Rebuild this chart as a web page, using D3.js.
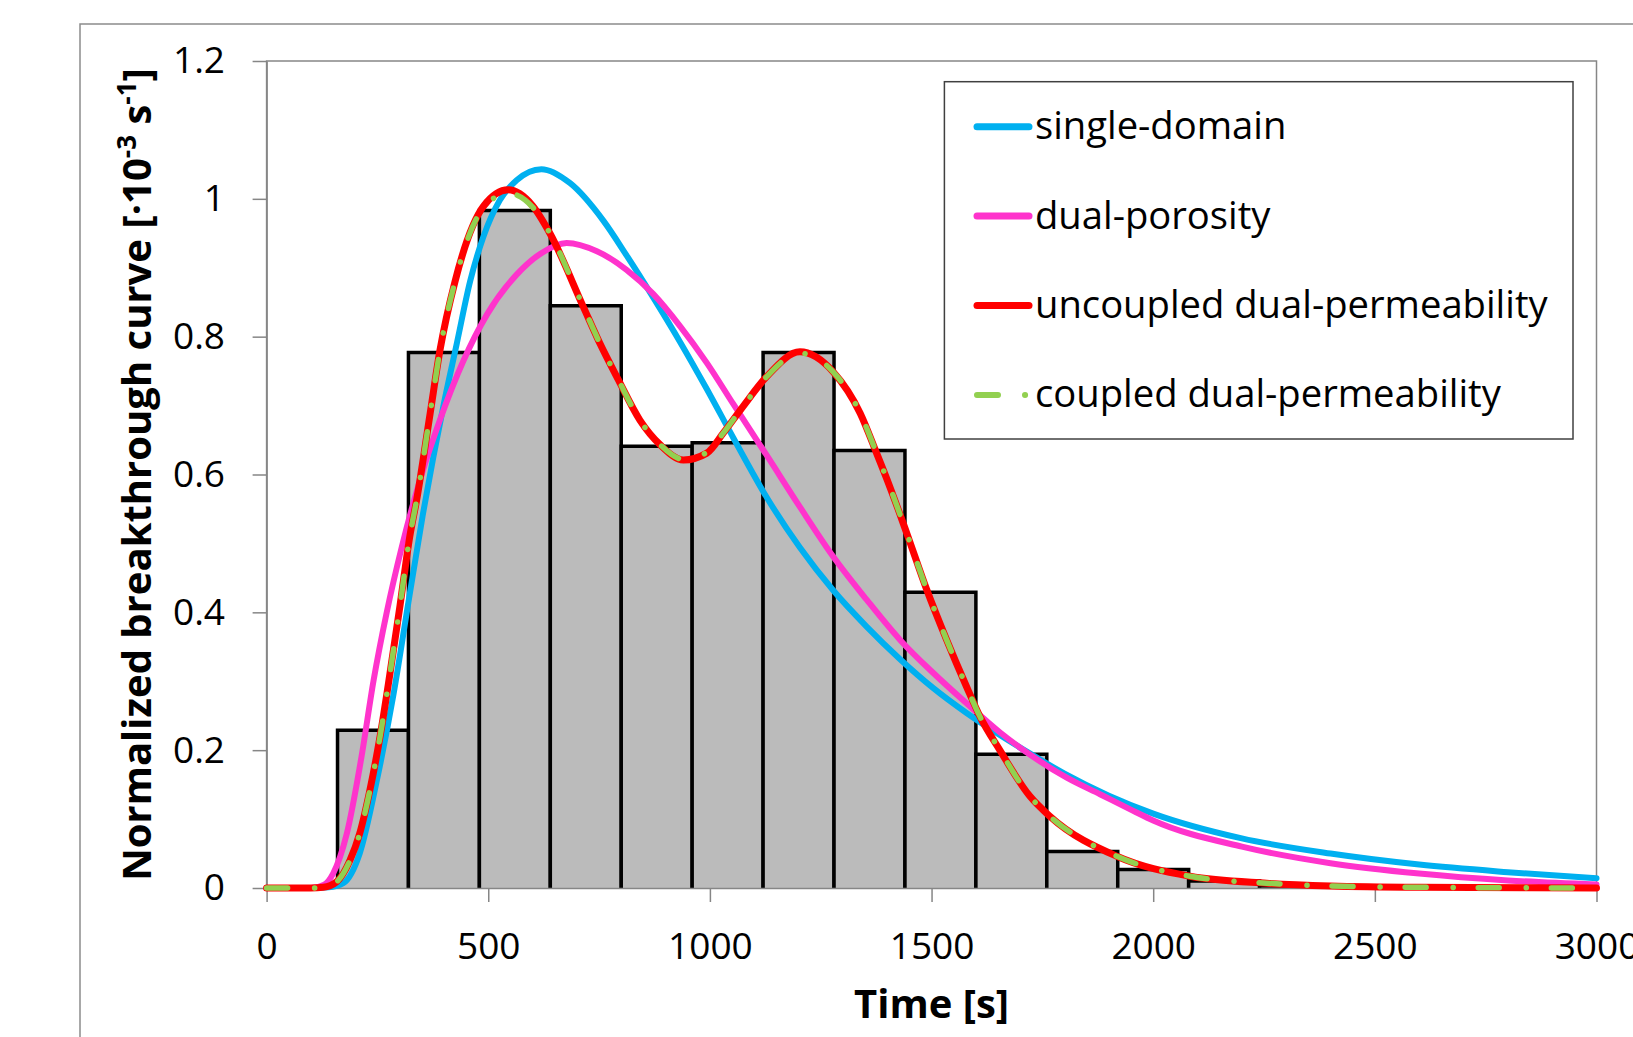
<!DOCTYPE html>
<html>
<head>
<meta charset="utf-8">
<script src="https://cdn.jsdelivr.net/npm/d3@7"></script>
<style>
body { margin:0; background:#fff; }
svg { display:block; font-family:"Open Sans", sans-serif; }
.axis path, .axis line { stroke:#868686; stroke-width:1.5; }
.axis text { font-size:37px; fill:#000; font-family:"Open Sans", sans-serif; }
.axis-label { font-size:40px; font-weight:bold; fill:#000; }
.legend text { font-size:38.2px; fill:#000; }
</style>
</head>
<body>
<div id="chart"></div>
<script>
// tick labels
var xTicks = [0, 500, 1000, 1500, 2000, 2500, 3000];
var yTicks = [0, 0.2, 0.4, 0.6, 0.8, 1, 1.2];

// histogram (bin start, bin width 160 s)
var binWidth = 160;
var binStart = [160, 320, 480, 640, 800, 960, 1120, 1280, 1440, 1600, 1760, 1920, 2080, 2240, 2400];
var binValue = [0.229, 0.777, 0.983, 0.845, 0.641, 0.646, 0.777, 0.635, 0.429, 0.194, 0.053, 0.027, 0.010, 0.003, 0.001];

// single-domain
var singleT = [0, 100, 140, 173, 210, 250, 286, 320, 352, 399, 429, 459, 489, 526, 564, 620, 684, 760, 812, 872, 933, 993, 1053, 1128, 1203, 1278, 1354, 1429, 1504, 1579, 1654, 1730, 1800, 1900, 2000, 2200, 2400, 2600, 2800, 3000];
var singleV = [0, 0, 0.001, 0.007, 0.05, 0.16, 0.28, 0.415, 0.54, 0.70, 0.79, 0.88, 0.945, 0.998, 1.027, 1.043, 1.023, 0.968, 0.918, 0.857, 0.792, 0.724, 0.653, 0.567, 0.494, 0.432, 0.379, 0.332, 0.29, 0.254, 0.222, 0.192, 0.166, 0.134, 0.108, 0.072, 0.05, 0.034, 0.023, 0.014];

// dual-porosity
var dualPorT = [0, 100, 130, 150, 181, 214, 241, 271, 305, 346, 391, 444, 497, 564, 617, 677, 745, 812, 872, 933, 993, 1053, 1128, 1203, 1278, 1354, 1429, 1504, 1579, 1654, 1730, 1805, 1880, 1955, 2000, 2200, 2400, 2600, 2800, 3000];
var dualPorV = [0, 0, 0.005, 0.021, 0.079, 0.19, 0.30, 0.40, 0.495, 0.592, 0.679, 0.765, 0.832, 0.89, 0.92, 0.936, 0.924, 0.897, 0.862, 0.815, 0.762, 0.702, 0.628, 0.553, 0.481, 0.418, 0.36, 0.312, 0.268, 0.226, 0.19, 0.16, 0.136, 0.112, 0.098, 0.06, 0.036, 0.021, 0.011, 0.005];

// uncoupled dual-permeability
var uncoupledT = [0, 100, 128, 158, 188, 210, 233, 256, 278, 301, 323, 339, 369, 391, 425, 489, 545, 600, 639, 714, 752, 793, 842, 888, 940, 993, 1030, 1075, 1128, 1203, 1278, 1339, 1376, 1406, 1444, 1489, 1534, 1579, 1609, 1654, 1722, 1767, 1918, 2083, 2256, 2400, 2600, 3000];
var uncoupledV = [0, 0, 0.001, 0.009, 0.04, 0.079, 0.142, 0.22, 0.31, 0.41, 0.51, 0.565, 0.689, 0.78, 0.88, 0.989, 1.013, 0.99, 0.95, 0.844, 0.79, 0.738, 0.679, 0.643, 0.621, 0.631, 0.66, 0.699, 0.742, 0.778, 0.749, 0.689, 0.631, 0.582, 0.515, 0.433, 0.36, 0.292, 0.249, 0.2, 0.133, 0.104, 0.046, 0.017, 0.007, 0.003, 0.001, 0];

// coupled dual-permeability
var coupledT = [0, 100, 128, 158, 188, 210, 233, 256, 278, 301, 323, 339, 369, 391, 425, 489, 545, 600, 639, 714, 752, 793, 842, 888, 940, 993, 1030, 1075, 1128, 1203, 1278, 1339, 1376, 1406, 1444, 1489, 1534, 1579, 1609, 1654, 1722, 1767, 1918, 2083, 2256, 2400, 2600, 3000];
var coupledV = [0, 0, 0.001, 0.009, 0.04, 0.079, 0.142, 0.22, 0.31, 0.41, 0.51, 0.565, 0.689, 0.78, 0.88, 0.987, 1.008, 0.988, 0.95, 0.844, 0.79, 0.738, 0.679, 0.643, 0.622, 0.632, 0.66, 0.699, 0.742, 0.776, 0.749, 0.689, 0.631, 0.582, 0.515, 0.433, 0.36, 0.292, 0.249, 0.2, 0.133, 0.104, 0.046, 0.017, 0.007, 0.003, 0.001, 0];

var legendLabels = ["single-domain", "dual-porosity", "uncoupled dual-permeability", "coupled dual-permeability"];
var seriesColors = ["#00b0f0", "#ff33cc", "#ff0000", "#92d050"];

var c = {
	w: 1633,
	h: 1037,
	l: 266.6, r: 1596.5, t: 61, b: 888,
	svg: null
};

function zip(ts, vs) {
	return ts.map((t,i) => ({t:t, v:vs[i]}));
}

c.svg = d3.select('#chart').append('svg')
			.attr('width', c.w)
			.attr('height', c.h);

var x = d3.scaleLinear().domain([0, 3000]).range([c.l, c.r]);
var y = d3.scaleLinear().domain([0, 1.2]).range([c.b, c.t]);

// outer chart frame (runs off the right and bottom edges)
c.svg.append('rect')
		.attr('x', 80).attr('y', 24)
		.attr('width', 1700).attr('height', 1100)
		.attr('fill', 'none')
		.attr('stroke', '#8c8c8c')
		.attr('stroke-width', 1.5);

// plot area border
c.svg.append('rect')
		.attr('x', c.l).attr('y', c.t)
		.attr('width', c.r-c.l).attr('height', c.b-c.t)
		.attr('fill', 'none')
		.attr('stroke', '#868686')
		.attr('stroke-width', 1.5);

// histogram bars, outline drawn without the bottom edge
var bins = binStart.map((s,i) => ({s:s, v:binValue[i]}));
c.svg.append('g')
		.attr('class', 'bars')
		.selectAll('path')
		.data(bins)
		.enter()
		.append('path')
			.attr('d', d => 'M'+x(d.s)+','+y(0)+'V'+y(d.v)+'H'+x(d.s+binWidth)+'V'+y(0))
			.attr('fill', '#bbbbbb')
			.attr('stroke', '#000')
			.attr('stroke-width', 3.5);

var x_axis = d3.axisBottom(x).tickValues(xTicks).tickSize(14).tickSizeOuter(0).tickPadding(31).tickFormat(d => String(d));
var y_axis = d3.axisLeft(y).tickValues(yTicks).tickSize(14).tickSizeOuter(0).tickPadding(27.6).tickFormat(d => String(d));

c.svg.append('g')
		.attr('class', 'axis x')
		.attr('transform', 'translate(0,'+c.b+')')
		.call(x_axis);
c.svg.append('g')
		.attr('class', 'axis y')
		.attr('transform', 'translate('+c.l+',0)')
		.call(y_axis);

var line = d3.line()
			.x(d => x(d.t))
			.y(d => y(d.v))
			.curve(d3.curveMonotoneX);

var series = [
	{data: zip(singleT, singleV), color: seriesColors[0], width: 6, dash: null},
	{data: zip(dualPorT, dualPorV), color: seriesColors[1], width: 6, dash: null},
	{data: zip(uncoupledT, uncoupledV), color: seriesColors[2], width: 7, dash: null},
	{data: zip(coupledT, coupledV), color: seriesColors[3], width: 5.5, dash: '21 27 0.1 25'}
];

c.svg.append('g')
		.attr('class', 'curves')
		.selectAll('path')
		.data(series)
		.enter()
		.append('path')
			.attr('d', d => line(d.data))
			.attr('fill', 'none')
			.attr('stroke', d => d.color)
			.attr('stroke-width', d => d.width)
			.attr('stroke-linecap', 'round')
			.attr('stroke-dasharray', d => d.dash);

// legend
var lg = c.svg.append('g').attr('class', 'legend');
lg.append('rect')
		.attr('x', 944.4).attr('y', 81.7)
		.attr('width', 628.6).attr('height', 357.3)
		.attr('fill', '#fff')
		.attr('stroke', '#404040')
		.attr('stroke-width', 1.5);

var items = lg.selectAll('g')
		.data(series)
		.enter()
		.append('g')
			.attr('transform', (d,i) => 'translate(0,'+(126.7+i*89.4)+')');
items.append('line')
		.attr('x1', 977).attr('x2', 1029)
		.attr('y1', 0).attr('y2', 0)
		.attr('stroke', d => d.color)
		.attr('stroke-width', d => d.dash ? 6 : 7)
		.attr('stroke-linecap', 'round')
		.attr('stroke-dasharray', d => d.dash);
items.append('text')
		.attr('x', 1035)
		.attr('y', 12.5)
		.text((d,i) => legendLabels[i]);

// axis titles
c.svg.append('text')
		.attr('class', 'axis-label')
		.attr('x', (c.l+c.r)/2)
		.attr('y', 1018)
		.attr('text-anchor', 'middle')
		.text('Time [s]');

var yl = c.svg.append('text')
		.attr('class', 'axis-label')
		.attr('transform', 'translate(151,'+((c.t+c.b)/2)+') rotate(-90)')
		.attr('text-anchor', 'middle');
yl.append('tspan').text('Normalized breakthrough curve [·10');
yl.append('tspan').attr('dy', -15).attr('font-size', 26).text('-3');
yl.append('tspan').attr('dy', 15).text(' s');
yl.append('tspan').attr('dy', -15).attr('font-size', 26).text('-1');
yl.append('tspan').attr('dy', 15).text(']');
</script>
</body>
</html>
